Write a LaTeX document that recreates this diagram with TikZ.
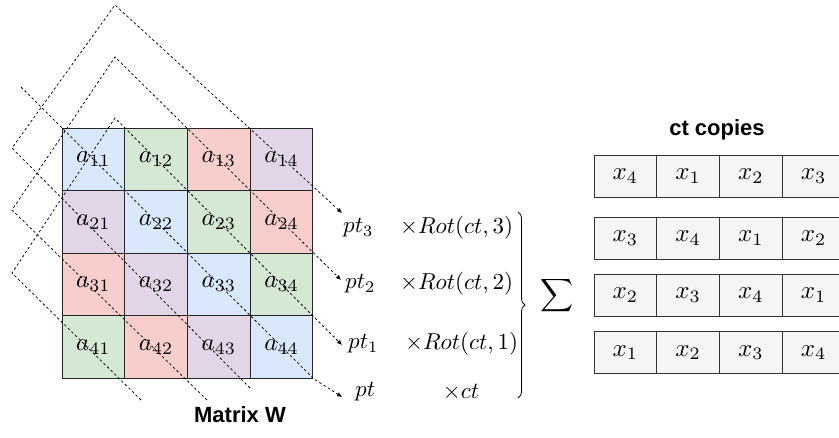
\documentclass[tikz,border=0pt]{standalone}
\usepackage{fontspec}
\newfontfamily\hv{Liberation Sans}
\usetikzlibrary{arrows.meta,decorations.pathreplacing}
\definecolor{cblue}{HTML}{DAE8FC}
\definecolor{cgreen}{HTML}{D5E8D4}
\definecolor{cred}{HTML}{F8CECC}
\definecolor{cpurple}{HTML}{E1D5E7}
\definecolor{cgray}{HTML}{F5F5F5}
\definecolor{cgline}{HTML}{333333}
\newcommand\mm[1]{\scalebox{2.3}{$#1$}}
\newcommand\mc[1]{\scalebox{2.5}{$#1$}}
\begin{document}
\begin{tikzpicture}[x=1pt,y=-1pt,
  cell/.style={draw=black!85, line width=1pt, minimum width=62.75pt, minimum height=62.5pt, inner sep=0pt},
  vcell/.style={draw=cgline, fill=cgray, line width=1pt, minimum width=62.75pt, minimum height=42pt, inner sep=0pt},
  dline/.style={dash pattern=on 2.5pt off 2.5pt, line width=0.75pt},
  darrow/.style={dline, -{Latex[length=5pt,width=4.5pt]}},
  lbl/.style={inner sep=0pt, anchor=west},
  title/.style={inner sep=0pt, font=\hv\bfseries\fontsize{22}{26}\selectfont},
]
\useasboundingbox (0,0) rectangle (839,437);

% matrix cells
\node[cell, fill=cblue]   (a11) at (93.4,159.25) {\mc{a_{11}}};
\node[cell, fill=cgreen]  (a12) at (156.1,159.25) {\mc{a_{12}}};
\node[cell, fill=cred]    (a13) at (218.9,159.25) {\mc{a_{13}}};
\node[cell, fill=cpurple] (a14) at (281.6,159.25) {\mc{a_{14}}};
\node[cell, fill=cpurple] (a21) at (93.4,221.75) {\mc{a_{21}}};
\node[cell, fill=cblue]   (a22) at (156.1,221.75) {\mc{a_{22}}};
\node[cell, fill=cgreen]  (a23) at (218.9,221.75) {\mc{a_{23}}};
\node[cell, fill=cred]    (a24) at (281.6,221.75) {\mc{a_{24}}};
\node[cell, fill=cred]    (a31) at (93.4,284.25) {\mc{a_{31}}};
\node[cell, fill=cpurple] (a32) at (156.1,284.25) {\mc{a_{32}}};
\node[cell, fill=cblue]   (a33) at (218.9,284.25) {\mc{a_{33}}};
\node[cell, fill=cgreen]  (a34) at (281.6,284.25) {\mc{a_{34}}};
\node[cell, fill=cgreen]  (a41) at (93.4,346.75) {\mc{a_{41}}};
\node[cell, fill=cred]    (a42) at (156.1,346.75) {\mc{a_{42}}};
\node[cell, fill=cpurple] (a43) at (218.9,346.75) {\mc{a_{43}}};
\node[cell, fill=cblue]   (a44) at (281.6,346.75) {\mc{a_{44}}};

\node[title] (mw) at (240,415) {Matrix W};

% labels on the right of the matrix
\node[lbl] (pt3) at (343,228) {\mm{pt_3}};
\node[lbl] (pt2) at (345,284) {\mm{pt_2}};
\node[lbl] (pt1) at (348,344) {\mm{pt_1}};
\node[lbl] (pt0) at (355,392) {\mm{pt}};
\node[lbl] (r3) at (400,228) {\mm{\times Rot(ct,3)}};
\node[lbl] (r2) at (400,284) {\mm{\times Rot(ct,2)}};
\node[lbl] (r1) at (405,344) {\mm{\times Rot(ct,1)}};
\node[inner sep=0pt] (r0) at (461,392) {\mm{\times ct}};

\draw[decorate, decoration={brace, amplitude=7pt}, line width=0.8pt] (518,212) -- (518,398);
\node[inner sep=0pt] (sum) at (557,296) {\mm{\displaystyle\sum}};

% dashed diagonals
\coordinate (s0) at (21,87);
\coordinate (e0) at (342,397);
\coordinate (t3) at (115,5);
\coordinate (t2) at (115,57);
\coordinate (t1) at (115,118);
\coordinate (v3) at (12,148);
\coordinate (v2) at (12,210);
\coordinate (v1) at (12,273);
\coordinate (b3) at (250,388);
\coordinate (b2) at (207,400);
\coordinate (b1) at (141,400);
\coordinate (e3) at (342,213);
\coordinate (e2) at (341,280);
\coordinate (e1) at (342,345);

\draw[darrow] (s0) -- (a44.south east) -- (e0);
\draw[darrow] (b3) -- (v3) -- (t3) -- (e3);
\draw[darrow] (b2) -- (v2) -- (t2) -- (e2);
\draw[darrow] (b1) -- (v1) -- (t1) -- (e1);

% ct copies
\node[title] (ctc) at (717,130) {ct copies};
\begin{scope}
\clip (0,0) rectangle (839,437);
\node[vcell] (c11) at (625.4,176) {\mc{x_4}};
\node[vcell] (c12) at (688.1,176) {\mc{x_1}};
\node[vcell] (c13) at (750.9,176) {\mc{x_2}};
\node[vcell] (c14) at (813.6,176) {\mc{x_3}};
\node[vcell] (c21) at (625.4,238) {\mc{x_3}};
\node[vcell] (c22) at (688.1,238) {\mc{x_4}};
\node[vcell] (c23) at (750.9,238) {\mc{x_1}};
\node[vcell] (c24) at (813.6,238) {\mc{x_2}};
\node[vcell] (c31) at (625.4,295) {\mc{x_2}};
\node[vcell] (c32) at (688.1,295) {\mc{x_3}};
\node[vcell] (c33) at (750.9,295) {\mc{x_4}};
\node[vcell] (c34) at (813.6,295) {\mc{x_1}};
\node[vcell] (c41) at (625.4,352.5) {\mc{x_1}};
\node[vcell] (c42) at (688.1,352.5) {\mc{x_2}};
\node[vcell] (c43) at (750.9,352.5) {\mc{x_3}};
\node[vcell] (c44) at (813.6,352.5) {\mc{x_4}};
\end{scope}
\end{tikzpicture}
\end{document}
